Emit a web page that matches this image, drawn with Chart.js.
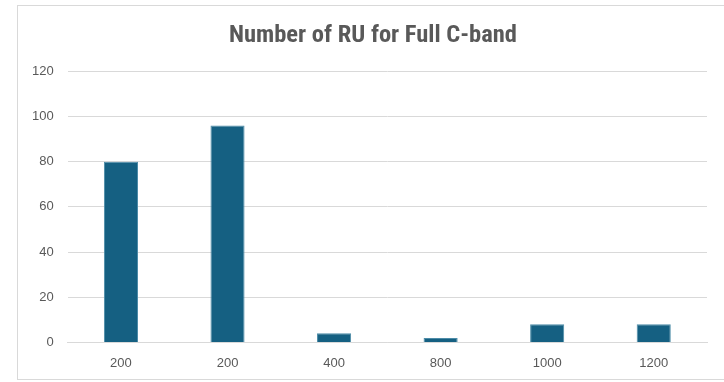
<!DOCTYPE html>
<html>
<head>
<meta charset="utf-8">
<script src="https://cdn.jsdelivr.net/npm/chart.js@4/dist/chart.umd.min.js"></script>
<style>
  html, body { margin: 0; padding: 0; background: #ffffff; overflow: hidden; }
  #frame {
    position: absolute; left: 17px; top: 5px;
    width: 720px; height: 375px;
    border: 1px solid #d9d9d9; box-sizing: border-box;
  }
  #wrap { position: absolute; left: 0; top: 0; width: 710px; height: 378px; }
</style>
</head>
<body>
<div id="frame"><div id="wrap"><canvas id="chart"></canvas></div></div>
<script>
const categories = ["200", "200", "400", "800", "1000", "1200"];
const ruCounts = [80, 96, 4, 2, 8, 8];
const yTicks = [0, 20, 40, 60, 80, 100, 120];

const ctx = document.getElementById("chart");
new Chart(ctx, {
  type: "bar",
  data: {
    labels: categories,
    datasets: [{
      label: "Number of RU",
      data: ruCounts,
      backgroundColor: "#156082",
      borderColor: "#4d8ca8",
      borderWidth: 1,
      categoryPercentage: 1.0,
      barPercentage: 0.32
    }]
  },
  options: {
    responsive: true,
    maintainAspectRatio: false,
    animation: false,
    layout: { padding: { left: 0, right: 0, top: 4, bottom: 0 } },
    plugins: {
      legend: { display: false },
      tooltip: { enabled: false },
      title: {
        display: true,
        text: "Number of RU for Full C-band",
        color: "#595959",
        font: { family: "'Roboto Condensed', 'Liberation Sans Narrow', 'Liberation Sans', sans-serif", size: 24.5, weight: "bold" },
        padding: { top: 11, bottom: 21 }
      }
    },
    scales: {
      x: {
        grid: { display: false, drawTicks: false },
        border: { display: true, color: "#d9d9d9", width: 1 },
        ticks: { color: "#595959", font: { family: "'Liberation Sans', Arial, sans-serif", size: 13 }, padding: 13 }
      },
      y: {
        min: 0, max: 120,
        afterBuildTicks: (axis) => { axis.ticks = yTicks.map(v => ({ value: v })); },
        grid: { color: "#d9d9d9", lineWidth: 1, drawTicks: false },
        border: { display: false },
        ticks: { color: "#595959", font: { family: "'Liberation Sans', Arial, sans-serif", size: 13 }, padding: 14 }
      },
      // empty right-hand margin beside the plot
      gutter: {
        position: "right",
        display: true,
        grid: { display: false, drawTicks: false },
        border: { display: false },
        ticks: { display: false },
        afterFit: (axis) => { axis.width = 21; }
      }
    }
  }
});
</script>
</body>
</html>
